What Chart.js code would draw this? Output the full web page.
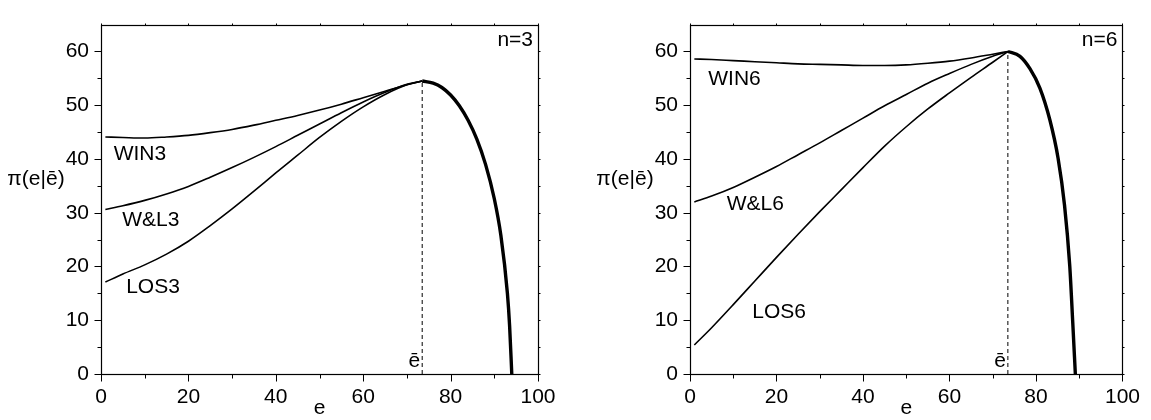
<!DOCTYPE html>
<html>
<head>
<meta charset="utf-8">
<script src="https://cdn.jsdelivr.net/npm/chart.js@4/dist/chart.umd.min.js"></script>
<style>
html,body{margin:0;padding:0;background:#fff;}
#wrap{position:relative;width:1151px;height:420px;overflow:hidden;}
canvas{position:absolute;top:0;}
</style>
</head>
<body>
<div id="wrap">
<canvas id="c3" width="575" height="420" style="left:0;width:575px;height:420px"></canvas>
<canvas id="c6" width="576" height="420" style="left:575px;width:576px;height:420px"></canvas>
</div>
<script>
// ---- data ----
const E_RISE = [1,5,10,15,20,25,30,35,40,45,50,55,60,65,70,73.5];
const WIN3 = [44.1,44.0,43.9,44.1,44.4,44.9,45.5,46.3,47.2,48.1,49.1,50.2,51.4,52.6,53.8,54.5];
const WL3  = [30.6,31.3,32.3,33.5,34.9,36.6,38.4,40.3,42.3,44.4,46.5,48.6,50.6,52.4,53.9,54.5];
const LOS3 = [17.1,18.6,20.3,22.3,24.7,27.6,30.7,34.0,37.4,40.7,44.0,47.0,49.7,52.0,53.8,54.5];
const E_FALL3 = [73.5,76,78,80,82,84,86,88,90,91.5,93,93.5,94];
const FALL3   = [54.5,54.1,53.3,51.9,49.9,47.2,43.7,39.0,32.6,25.8,15.0,9.0,0];

const WIN6 = [58.6,58.5,58.3,58.1,57.9,57.7,57.6,57.5,57.4,57.4,57.5,57.8,58.2,58.8,59.5,60.0];
const WL6  = [32.0,33.1,34.7,36.6,38.6,40.8,43.0,45.3,47.6,49.9,52.0,54.1,55.9,57.6,59.1,60.0];
const LOS6 = [5.4,8.6,12.9,17.3,21.7,26.0,30.2,34.3,38.4,42.4,46.0,49.3,52.3,55.2,58.0,60.0];
const E_FALL6 = [73.5,76.3,78.6,80.9,83.2,85.1,86.6,87.8,88.5,89.1];
const FALL6   = [60.0,59.1,56.8,53.2,47.3,40.2,31.4,20.2,9.6,0];

const E_BAR = 73.5;
const PEAK3 = 54.5, PEAK6 = 60.0;
const X_TICKS = [0,20,40,60,80,100];
const X_MINOR = [10,30,50,70,90];
const Y_TICKS = [0,10,20,30,40,50,60];
const Y_MINOR = [5,15,25,35,45,55];

const FONT = '"Liberation Sans", Arial, Helvetica, sans-serif';

function pts(xs, ys){ return xs.map((x,i)=>({x:x, y:ys[i]})); }

const decor = {
  id:'decor',
  afterDraw(chart, args, o){
    const ctx = chart.ctx, a = chart.chartArea, xs = chart.scales.x, ys = chart.scales.y;
    ctx.save();
    ctx.strokeStyle = '#000'; ctx.lineWidth = 1.2;
    const L = Math.round(a.left)+0.5, R = Math.round(a.right)+0.5, T = Math.round(a.top)+0.5, B = Math.round(a.bottom)+0.5;
    ctx.strokeRect(L, T, R-L, B-T);
    ctx.lineWidth = 1;
    const seg=(x1,y1,x2,y2)=>{ctx.beginPath();ctx.moveTo(x1,y1);ctx.lineTo(x2,y2);ctx.stroke();};
    X_TICKS.forEach(v=>{const p=Math.round(xs.getPixelForValue(v))+0.5; seg(p,B,p,B+7); seg(p,T,p,T-2);});
    X_MINOR.forEach(v=>{const p=Math.round(xs.getPixelForValue(v))+0.5; seg(p,B,p,B+4); seg(p,T,p,T-2);});
    Y_TICKS.forEach(v=>{const p=Math.round(ys.getPixelForValue(v))+0.5; seg(L,p,L-7,p); seg(R,p,R+2,p);});
    Y_MINOR.forEach(v=>{const p=Math.round(ys.getPixelForValue(v))+0.5; seg(L,p,L-4,p); seg(R,p,R+2,p);});
    ctx.fillStyle = '#000';
    ctx.font = '21px ' + FONT;
    ctx.textAlign = 'center'; ctx.textBaseline = 'middle';
    o.labels.forEach(l=>{ ctx.fillText(l.text, xs.getPixelForValue(l.x), ys.getPixelForValue(l.y)); });
    // axis titles
    ctx.font = '21px ' + FONT;
    ctx.fillText('π(e|ē)', a.left - 65, 179);
    ctx.fillText('e', (a.left + a.right)/2, a.bottom + 34);
    ctx.textAlign = 'right';
    ctx.font = '21px ' + FONT;
    ctx.fillText(o.nlabel, a.right - 5, a.top + 16);
    ctx.fillText('ē', xs.getPixelForValue(E_BAR) - 2, a.bottom - 13);
    ctx.restore();
  }
};

function makeChart(id, rise, fall, peak, labels, nlabel, yw, padR){
  const thin = {borderColor:'#000', borderWidth:1.6, pointRadius:0, fill:false, cubicInterpolationMode:'monotone'};
  return new Chart(document.getElementById(id), {
    type:'line',
    data:{ datasets:[
      Object.assign({data:pts(E_RISE, rise[0])}, thin),
      Object.assign({data:pts(E_RISE, rise[1])}, thin),
      Object.assign({data:pts(E_RISE, rise[2])}, thin),
      {data:pts(fall[0], fall[1]), borderColor:'#000', borderWidth:3.4, pointRadius:0, fill:false, cubicInterpolationMode:'monotone'},
      {data:[{x:E_BAR,y:0},{x:E_BAR,y:peak}], borderColor:'#000', borderWidth:1, borderDash:[4,3], pointRadius:0, fill:false}
    ]},
    options:{
      responsive:false, animation:false, devicePixelRatio:1,
      layout:{padding:{top:7, right:padR, bottom:0, left:0}},
      plugins:{ legend:{display:false}, tooltip:{enabled:false}, decor:{labels:labels, nlabel:nlabel} },
      scales:{
        x:{ type:'linear', min:0, max:100,
            afterBuildTicks(s){ s.ticks = X_TICKS.map(v=>({value:v})); },
            afterFit(s){ s.height = 46; },
            grid:{display:false, drawTicks:false}, border:{display:false},
            ticks:{ color:'#000', font:{family:FONT, size:21}, padding:11, maxRotation:0 } },
        y:{ type:'linear', min:0, max:65,
            afterBuildTicks(s){ s.ticks = Y_TICKS.map(v=>({value:v})); },
            afterFit(s){ s.width = yw; },
            grid:{display:false, drawTicks:false}, border:{display:false},
            ticks:{ color:'#000', font:{family:FONT, size:21}, padding:12 } }
      }
    },
    plugins:[decor]
  });
}

makeChart('c3', [WIN3, WL3, LOS3], [E_FALL3, FALL3], PEAK3,
  [{text:'WIN3', x:8.9, y:40.9},{text:'W&L3', x:11.4, y:28.7},{text:'LOS3', x:11.9, y:16.1}],
  'n=3', 101, 37);
makeChart('c6', [WIN6, WL6, LOS6], [E_FALL6, FALL6], PEAK6,
  [{text:'WIN6', x:10.3, y:54.9},{text:'W&L6', x:15.1, y:31.5},{text:'LOS6', x:20.6, y:11.5}],
  'n=6', 115, 24);
</script>
</body>
</html>
